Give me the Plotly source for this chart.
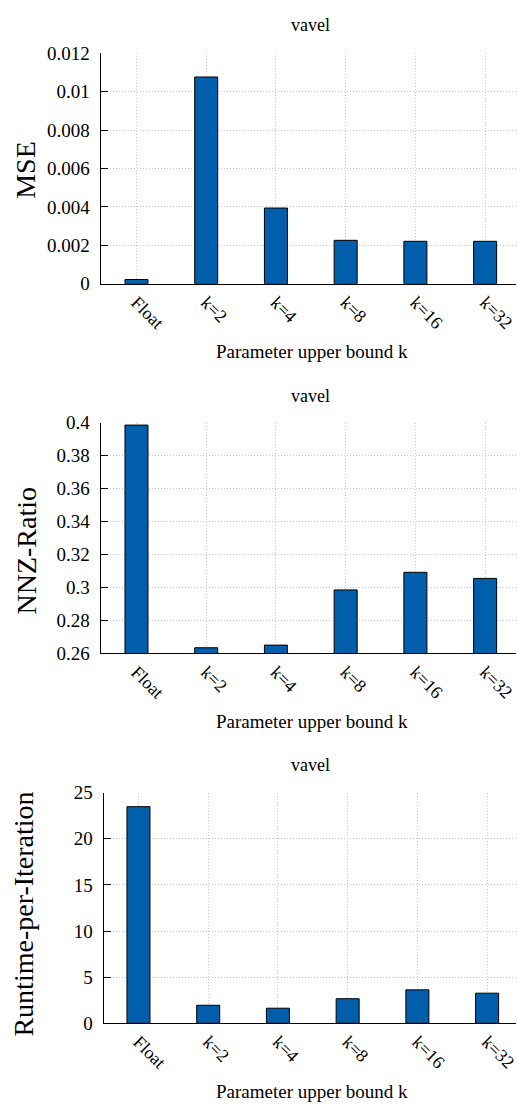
import plotly.graph_objects as go

categories = ["Float", "k=2", "k=4", "k=8", "k=16", "k=32"]
mse = [0.00022, 0.01076, 0.00394, 0.00226, 0.00221, 0.00221]
nnz_ratio = [0.3986, 0.2634, 0.2650, 0.2985, 0.3092, 0.3055]
runtime = [23.48, 1.95, 1.63, 2.66, 3.62, 3.26]

mse_ticks = [0, 0.002, 0.004, 0.006, 0.008, 0.01, 0.012]
mse_ticktext = ["0", "0.002", "0.004", "0.006", "0.008", "0.01", "0.012"]
nnz_ticks = [0.26, 0.28, 0.30, 0.32, 0.34, 0.36, 0.38, 0.40]
nnz_ticktext = ["0.26", "0.28", "0.3", "0.32", "0.34", "0.36", "0.38", "0.4"]
rt_ticks = [0, 5, 10, 15, 20, 25]
rt_ticktext = ["0", "5", "10", "15", "20", "25"]

panel_title = "vavel"
x_title = "Parameter upper bound k"
y_titles = ["MSE", "NNZ-Ratio", "Runtime-per-Iteration"]

W, H = 518, 1115
FONT = "Liberation Serif, Times New Roman, Times, serif"
BAR = "#005eab"
GRID = "#c8c8c8"

fig = go.Figure()

panels = [
    dict(vals=mse, tv=mse_ticks, tt=mse_ticktext, yr=[0, 0.012], top=44, bot=279, left=101, first=137),
    dict(vals=nnz_ratio, tv=nnz_ticks, tt=nnz_ticktext, yr=[0.26, 0.40], top=420.7, bot=655.7, left=101, first=137),
    dict(vals=runtime, tv=rt_ticks, tt=rt_ticktext, yr=[0, 25], top=797.7, bot=1032.7, left=104, first=139),
]
title_y = [15, 393, 770]
xtitle_y = [348, 725, 1102]
ytitle_pos = [(26, 163), (27, 551), (24, 921)]
step = 70.0

layout = dict(
    width=W, height=H, margin=dict(l=0, r=0, t=0, b=0),
    paper_bgcolor="white", plot_bgcolor="white", showlegend=False,
    font=dict(family=FONT, color="black", size=18),
)
annotations = []
for i, p in enumerate(panels):
    n = "" if i == 0 else str(i + 1)
    xa, ya = "x" + n, "y" + n
    fig.add_trace(go.Bar(
        x=list(range(len(categories))), y=p["vals"], xaxis=xa, yaxis=ya,
        width=0.33, marker=dict(color=BAR, line=dict(color="black", width=1)),
    ))
    r0 = -(p["first"] - p["left"]) / step
    r1 = (W - p["first"]) / step
    layout["xaxis" + n] = dict(
        domain=[p["left"] / W, 1], anchor=ya, range=[r0, r1],
        tickmode="array", tickvals=list(range(len(categories))), ticktext=categories,
        tickangle=45, tickfont=dict(family=FONT, size=18, color="black"),
        ticklabeloverflow="allow",
        showline=True, linecolor="black", linewidth=1.2,
        showgrid=True, gridcolor=GRID, griddash="1px,2px", gridwidth=1,
        ticks="", zeroline=False,
    )
    layout["yaxis" + n] = dict(
        domain=[1 - p["bot"] / H, 1 - p["top"] / H], anchor=xa, range=p["yr"],
        tickmode="array", tickvals=p["tv"], ticktext=p["tt"],
        tickfont=dict(family=FONT, size=19, color="black"),
        showline=True, linecolor="black", linewidth=1.2,
        ticks="inside", ticklen=7, tickcolor="black", tickwidth=1,
        showgrid=True, gridcolor=GRID, griddash="1px,2px", gridwidth=1,
        zeroline=False, ticklabelstandoff=6,
    )
    annotations.append(dict(text=panel_title, x=312 / W, y=1 - title_y[i] / H, xref="paper", yref="paper",
                            showarrow=False, xanchor="center", yanchor="middle",
                            font=dict(family=FONT, size=18, color="black")))
    annotations.append(dict(text=x_title, x=313 / W, y=1 - xtitle_y[i] / H, xref="paper", yref="paper",
                            showarrow=False, xanchor="center", yanchor="middle",
                            font=dict(family=FONT, size=19, color="black")))
    annotations.append(dict(text=y_titles[i], x=ytitle_pos[i][0] / W, y=1 - ytitle_pos[i][1] / H,
                            xref="paper", yref="paper", textangle=-90,
                            showarrow=False, xanchor="center", yanchor="middle",
                            font=dict(family=FONT, size=28, color="black")))

layout["annotations"] = annotations
fig.update_layout(**layout)
fig.write_html("out.html")
